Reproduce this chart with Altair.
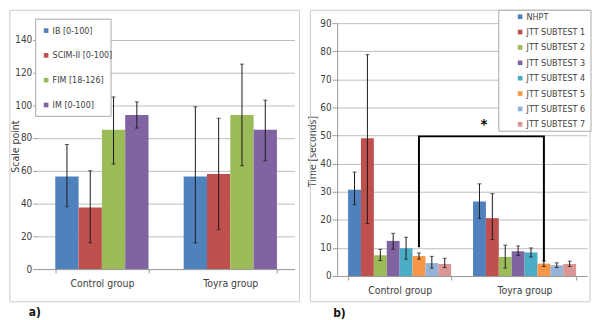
import altair as alt
import pandas as pd

FONT = "Liberation Sans Narrow, Arial Narrow, DejaVu Sans Condensed, sans-serif"

# ---------------- data: panel a ----------------
groups = ["Control group", "Toyra group"]
a_series = ["IB [0-100]", "SCIM-II [0-100]", "FIM [18-126]", "IM [0-100]"]
a_colors = ["#4F81BD", "#C0504D", "#9BBB59", "#8064A2"]
a_mean_control = [56.5, 37.5, 85, 94]
a_low_control = [38, 16, 64, 86]
a_high_control = [76, 60, 105, 102]
a_mean_toyra = [56.5, 58, 94, 85]
a_low_toyra = [16, 24, 63, 66]
a_high_toyra = [99, 92, 125, 103]
a_ticks = [0, 20, 40, 60, 80, 100, 120, 140]

# ---------------- data: panel b ----------------
b_series = ["NHPT", "JTT SUBTEST 1", "JTT SUBTEST 2", "JTT SUBTEST 3",
            "JTT SUBTEST 4", "JTT SUBTEST 5", "JTT SUBTEST 6", "JTT SUBTEST 7"]
b_colors = ["#4F81BD", "#C0504D", "#9BBB59", "#8064A2",
            "#4BACC6", "#F79646", "#95B3D7", "#D99694"]
b_mean_control = [30.7, 49, 7.4, 12.5, 9.9, 7.1, 4.6, 4.3]
b_low_control = [25.4, 18.7, 5.5, 9.5, 6, 6, 2.8, 3]
b_high_control = [37, 78.8, 9.5, 15.2, 13.8, 8.2, 7, 6.3]
b_mean_toyra = [26.5, 20.6, 6.8, 8.8, 8.4, 4.4, 3.8, 4.3]
b_low_toyra = [20.5, 13, 2.8, 7.3, 6.8, 3.4, 3, 3.4]
b_high_toyra = [32.8, 29.3, 11, 10.7, 10, 5.3, 4.7, 5.3]
b_ticks = [0, 10, 20, 30, 40, 50, 60, 70, 80, 90]

# significance bracket between the two JTT SUBTEST 5 bars
br_group = ["Control group", "Control group", "Toyra group", "Toyra group"]
br_value = [10.2, 49.7, 49.7, 5.3]
br_order = [1, 2, 3, 4]
star_value = [54]


def long_df(series, mc, lc, hc, mt, lt, ht):
    rows = []
    for g, m, lo, hi in (("Control group", mc, lc, hc), ("Toyra group", mt, lt, ht)):
        for s, v, l, h in zip(series, m, lo, hi):
            rows.append({"group": g, "series": s, "value": v, "low": l, "high": h})
    return pd.DataFrame(rows)


a_df = long_df(a_series, a_mean_control, a_low_control, a_high_control,
               a_mean_toyra, a_low_toyra, a_high_toyra)
b_df = long_df(b_series, b_mean_control, b_low_control, b_high_control,
               b_mean_toyra, b_low_toyra, b_high_toyra)
br_df = pd.DataFrame({"group": br_group, "series": ["JTT SUBTEST 5"] * 4,
                      "value": br_value, "order": br_order})
one = pd.DataFrame({"k": [1]})

GRID = "#BDBDBD"
TEXT = "#404040"


def x_axis():
    return alt.Axis(title=None, labelFont=FONT, labelFontSize=10.5, labelColor=TEXT,
                    tickBand="extent", tickSize=4, tickColor="#9A9A9A",
                    domainColor="#9A9A9A", labelPadding=6, labelAngle=0, grid=False)


def panel(df, series, colors, ymax, ticks, ytitle, titlex, titley,
          pad_in, legend_x, legend_y, row_pad, ydomain_line, leg_font):
    xs = alt.X("group:N", sort=groups,
               scale=alt.Scale(paddingInner=pad_in, paddingOuter=pad_in / 2),
               axis=x_axis())
    xo = alt.XOffset("series:N", sort=series,
                     scale=alt.Scale(domain=series, paddingInner=0, paddingOuter=0))
    yscale = alt.Scale(domain=[0, ymax], nice=False)
    yaxis = alt.Axis(values=ticks, title=ytitle, titleFont=FONT, titleFontSize=10.5,
                     titleFontWeight="normal", titleColor=TEXT,
                     titleX=titlex, titleY=titley, titleAngle=270,
                     titleBaseline="middle", titleAlign="center",
                     labelFont=FONT, labelFontSize=10, labelColor=TEXT,
                     labelOverlap=False, labelBound=False, labelFlush=False,
                     labelSeparation=0,
                     tickSize=5, tickColor="#9A9A9A", labelPadding=1,
                     gridColor=GRID, domain=ydomain_line,
                     domainColor="#9A9A9A")

    def Y(field):
        return alt.Y(field, scale=yscale, axis=yaxis)

    base = alt.Chart(df)
    bars = base.mark_bar().encode(
        x=xs, xOffset=xo, y=Y("value:Q"),
        color=alt.Color("series:N", sort=series,
                        scale=alt.Scale(domain=series, range=colors),
                        legend=alt.Legend(title=None, orient="none",
                                          legendX=legend_x, legendY=legend_y,
                                          symbolType="square", symbolSize=22,
                                          symbolStrokeWidth=0, labelFont=FONT,
                                          labelFontSize=leg_font, labelColor=TEXT,
                                          rowPadding=row_pad, padding=0,
                                          labelOffset=2)))
    err = base.mark_rule(color="#1a1a1a", strokeWidth=1).encode(
        x=xs, xOffset=xo, y=Y("low:Q"), y2="high:Q")
    cap_hi = base.mark_tick(color="#1a1a1a", thickness=1, size=4).encode(
        x=xs, xOffset=xo, y=Y("high:Q"))
    cap_lo = base.mark_tick(color="#1a1a1a", thickness=1, size=4).encode(
        x=xs, xOffset=xo, y=Y("low:Q"))
    return bars, err, cap_hi, cap_lo, xs, xo, Y


# ---------------- panel a ----------------
a_bars, a_err, a_hi, a_lo, a_xs, a_xo, aY = panel(
    a_df, a_series, a_colors, 150, a_ticks, "Scale point", -22, 124,
    0.274, 4, 3, 15, False, 9)
a_frame = alt.Chart(one).mark_rect(fill="transparent", stroke="#C8C8C8", strokeWidth=1).encode(
    x=alt.value(-28), x2=alt.value(264), y=alt.value(-13), y2=alt.value(281))
a_legbox = alt.Chart(one).mark_rect(fill="white", stroke="#A8A8A8", strokeWidth=1).encode(
    x=alt.value(-2), x2=alt.value(74), y=alt.value(-4), y2=alt.value(94))
a_label = alt.Chart(one).mark_text(text="a)", font=FONT, fontSize=12, fontWeight="bold",
                                   color="#111", align="left", baseline="middle").encode(
    x=alt.value(-9), y=alt.value(291))
left = alt.layer(a_frame, a_legbox, a_bars, a_err, a_hi, a_lo, a_label).properties(
    width=259, height=248)

# ---------------- panel b ----------------
b_bars, b_err, b_hi, b_lo, b_xs, b_xo, bY = panel(
    b_df, b_series, b_colors, 90, b_ticks, "Time [seconds]", -25, 129,
    0.175, 180, -11, 5.5, True, 9)
b_frame = alt.Chart(one).mark_rect(fill="transparent", stroke="#C8C8C8", strokeWidth=1).encode(
    x=alt.value(-27), x2=alt.value(255), y=alt.value(-13), y2=alt.value(281))
b_legbox = alt.Chart(one).mark_rect(fill="white", stroke="#A8A8A8", strokeWidth=1).encode(
    x=alt.value(163), x2=alt.value(256), y=alt.value(-13), y2=alt.value(109))
bracket = alt.Chart(br_df).mark_line(color="black", strokeWidth=2).encode(
    x=b_xs, xOffset=b_xo, y=bY("value:Q"), order="order:Q")
star = alt.Chart(pd.DataFrame({"value": star_value})).mark_text(
    text="*", font=FONT, fontSize=15, fontWeight="bold", color="black").encode(
    x=alt.value(148), y=bY("value:Q"))
b_label = alt.Chart(one).mark_text(text="b)", font=FONT, fontSize=12, fontWeight="bold",
                                   color="#111", align="left", baseline="middle").encode(
    x=alt.value(-4), y=alt.value(292))
right = alt.layer(b_frame, b_bars, b_err, b_hi, b_lo, bracket, star, b_legbox, b_label).properties(
    width=252, height=255)

chart = alt.hconcat(left, right, spacing=7).resolve_scale(
    color="independent", x="independent", y="independent", xOffset="independent"
).properties(
    padding={"left": 9, "top": 8, "right": 0, "bottom": 0},
    background="white"
).configure_view(stroke=None).configure_axis(labelOverlap=False)

chart.save("out.html", embed_options={"renderer": "svg", "actions": False})
